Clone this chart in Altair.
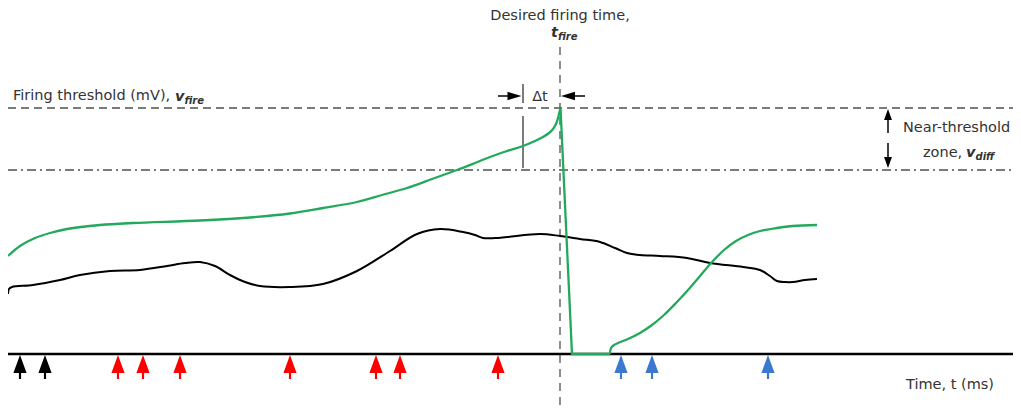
import altair as alt
import pandas as pd

# ---- data (diagram coordinates: time on x, membrane potential on y, pixel-like units) ----
green_rise_t = [8, 20, 35, 50, 67, 100, 133, 200, 250, 290, 323, 357, 382, 407, 432, 457, 475,
                490, 507, 523, 535, 543, 549, 553, 556, 558, 559.5, 560.5]
green_rise_v = [256, 246, 238, 233, 229, 225, 223, 220.5, 217.5, 213.5, 208, 202, 195, 188, 179, 170, 163,
                157, 151, 146, 141, 137, 133, 129, 124, 118, 112, 108]
green_drop_t = [560.5, 572, 610]
green_drop_v = [108, 354, 354]
green_rec_t = [610, 611, 614, 618, 628, 640, 652, 664, 676, 688, 700, 712, 724, 736, 748, 760, 777, 793, 817]
green_rec_v = [354, 348, 345, 343, 339, 333, 325, 315, 303, 290, 276, 262, 250, 241, 235, 231, 228, 226, 225]

black_t = [8, 9, 12, 33, 60, 80, 110, 140, 167, 185, 200, 215, 230, 245, 260, 290, 323, 357,
           390, 417, 440, 463, 475, 483, 495, 507, 540, 560, 580, 600, 615, 627, 640, 660, 687, 710,
           743, 760, 770, 777, 785, 793, 805, 817]
black_v = [294, 289, 287, 285, 280, 275, 271, 270, 266, 263, 262, 266, 275, 282, 286, 287, 284, 271,
           251, 234, 229, 232, 235, 238, 238, 237, 234, 236, 239, 242, 248, 253, 255, 256, 258, 263,
           267, 270, 276, 281, 282, 282, 280, 279]

spike_black_t = [20, 45]
spike_red_t = [118, 143, 180, 290, 376, 400, 498]
spike_blue_t = [621, 652, 768]

t_fire = 560
t_early = 523
v_fire = 108
v_near = 170
v_rest = 354
t_min, t_max = 8, 1013
v_top, v_bottom = 8, 411

# ---- scales ----
W, H = t_max - t_min, v_bottom - v_top
xs = alt.Scale(domain=[t_min, t_max], nice=False, zero=False)
ys = alt.Scale(domain=[v_top, v_bottom], nice=False, zero=False, reverse=True)
X = lambda f: alt.X(f, type="quantitative", scale=xs, axis=None)
Y = lambda f: alt.Y(f, type="quantitative", scale=ys, axis=None)
X2 = lambda f: alt.X2(f)
Y2 = lambda f: alt.Y2(f)

GREEN = "#22a95b"
GRAY = "#505050"
TXT = "#333333"
FONT = "DejaVu Sans"


def line_df(t, v):
    return pd.DataFrame({"t": t, "v": v, "o": range(len(t))})


def curve(t, v, color, width, interp):
    return alt.Chart(line_df(t, v)).mark_line(color=color, strokeWidth=width, interpolate=interp).encode(
        x=X("t"), y=Y("v"), order="o:Q")


green1 = curve(green_rise_t, green_rise_v, GREEN, 2.3, "catmull-rom")
green2 = curve(green_drop_t, green_drop_v, GREEN, 2.3, "linear")
green3 = curve(green_rec_t, green_rec_v, GREEN, 2.3, "catmull-rom")
black = curve(black_t, black_v, "#000000", 2.0, "catmull-rom")

# horizontal reference lines
hl = lambda rows: pd.DataFrame(rows, columns=["t", "t2", "v"])
thr = alt.Chart(hl([[t_min, 1013, v_fire]])).mark_rule(color=GRAY, strokeWidth=1.3, strokeDash=[8, 5]).encode(
    x=X("t"), x2=X2("t2"), y=Y("v"))
near = alt.Chart(hl([[t_min, 1013, v_near]])).mark_rule(color=GRAY, strokeWidth=1.3, strokeDash=[9, 4, 2, 4]).encode(
    x=X("t"), x2=X2("t2"), y=Y("v"))
base = alt.Chart(hl([[t_min, t_max, v_rest]])).mark_rule(color="#000000", strokeWidth=2.5).encode(
    x=X("t"), x2=X2("t2"), y=Y("v"))

# vertical lines
vl = lambda rows: pd.DataFrame(rows, columns=["t", "v", "v2"])
tline = alt.Chart(vl([[t_fire, 47, v_bottom]])).mark_rule(color=GRAY, strokeWidth=1.3, strokeDash=[8, 6]).encode(
    x=X("t"), y=Y("v"), y2=Y2("v2"))
dtline = alt.Chart(vl([[t_early, 84, 103], [t_early, 116, 168]])).mark_rule(color=GRAY, strokeWidth=1.5).encode(
    x=X("t"), y=Y("v"), y2=Y2("v2"))

# arrow shafts
shafts_h = alt.Chart(hl([[498, 509, 96], [573, 585, 96]])).mark_rule(color="#000000", strokeWidth=1.5).encode(
    x=X("t"), x2=X2("t2"), y=Y("v"))
shafts_v = alt.Chart(vl([[888, 119, 133], [888, 143, 158]])).mark_rule(color="#000000", strokeWidth=1.5).encode(
    x=X("t"), y=Y("v"), y2=Y2("v2"))

# arrow heads (tip at the data point)
RIGHT = "M0,0L-1,-0.3L-1,0.3Z"
LEFT = "M0,0L1,-0.3L1,0.3Z"
UP = "M0,0L-0.36,1L0.36,1Z"
DOWN = "M0,0L-0.36,-1L0.36,-1Z"
heads = pd.DataFrame({
    "t": [521.5, 561, 888, 888],
    "v": [96, 96, 109, 168],
    "shape": [RIGHT, LEFT, UP, DOWN],
    "size": [784, 784, 484, 484],
})
heads_ch = alt.Chart(heads).mark_point(filled=True, color="#000000", opacity=1, strokeWidth=0).encode(
    x=X("t"), y=Y("v"),
    shape=alt.Shape("shape:N", scale=None),
    size=alt.Size("size:Q", scale=None))

# input spikes under the time axis
SPIKE = "M0,-1L0.55,0.5L0.09,0.5L0.09,1L-0.09,1L-0.09,0.5L-0.55,0.5Z"
spikes = pd.DataFrame({
    "t": spike_black_t + spike_red_t + spike_blue_t,
    "c": ["#000000"] * len(spike_black_t) + ["#ff0000"] * len(spike_red_t) + ["#3b78cf"] * len(spike_blue_t),
})
spikes["v"] = 367
spike_ch = alt.Chart(spikes).mark_point(filled=True, opacity=1, strokeWidth=0, shape=SPIKE, size=576).encode(
    x=X("t"), y=Y("v"), color=alt.Color("c:N", scale=None))

# texts
normal_txt = pd.DataFrame({
    "t": [560, 13, 540, 903, 923, 906],
    "v": [19.5, 100, 101, 132, 157, 389],
    "label": ["Desired firing time,", "Firing threshold (mV),", "\u0394t", "Near-threshold", "zone,", "Time, t (ms)"],
    "align": ["center", "left", "center", "left", "left", "left"],
})


def texts(df, size, weight, style):
    layers = []
    for al in df["align"].unique():
        sub = df[df["align"] == al]
        layers.append(alt.Chart(sub).mark_text(font=FONT, fontSize=size, fontWeight=weight, fontStyle=style,
                                               color=TXT, align=al, baseline="alphabetic").encode(
            x=X("t"), y=Y("v"), text="label:N"))
    return layers


big_bi = pd.DataFrame({"t": [551, 175, 966], "v": [37, 101, 157], "label": ["t", "v", "v"], "align": ["left"] * 3})
sub_bi = pd.DataFrame({"t": [558, 184.5, 975.5], "v": [40, 104, 160], "label": ["fire", "fire", "diff"], "align": ["left"] * 3})

layers = [thr, near, tline, dtline, base, black, green1, green2, green3, shafts_h, shafts_v, heads_ch, spike_ch]
layers += texts(normal_txt, 14.5, "normal", "normal")
layers += texts(big_bi, 14.5, "bold", "italic")
layers += texts(sub_bi, 10, "bold", "italic")

chart = alt.layer(*layers).properties(
    width=W, height=H, padding=0, autosize=alt.AutoSizeParams(type="none")
).configure(background="#ffffff").configure_view(stroke=None, strokeWidth=0)

chart.save("out.html", embed_options={"renderer": "svg", "actions": False})
